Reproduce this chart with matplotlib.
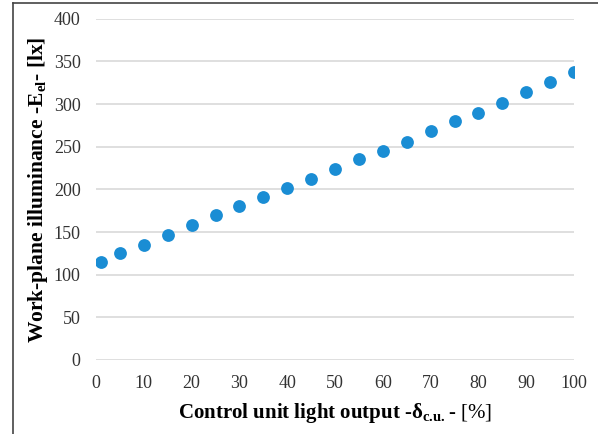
import matplotlib

matplotlib.use("Agg")
import matplotlib.pyplot as plt
from matplotlib.lines import Line2D

# Control unit light output [%] vs. measured work-plane illuminance [lx]
output_pct = [1, 5, 10, 15, 20, 25, 30, 35, 40, 45, 50,
              55, 60, 65, 70, 75, 80, 85, 90, 95, 100]
illuminance_lx = [115, 125, 135, 147, 158, 170, 180, 191, 202, 212, 224,
                  235, 245, 256, 268, 280, 290, 301, 314, 326, 338]
x_ticks = [0, 10, 20, 30, 40, 50, 60, 70, 80, 90, 100]
y_ticks = [0, 50, 100, 150, 200, 250, 300, 350, 400]

plt.rcParams["font.family"] = ["Liberation Serif", "DejaVu Serif"]
plt.rcParams["mathtext.fontset"] = "custom"
plt.rcParams["mathtext.rm"] = "Liberation Serif"
plt.rcParams["mathtext.bf"] = "Liberation Serif:bold"

W, H = 598, 434
fig = plt.figure(figsize=(W / 100, H / 100), dpi=100)
ax = fig.add_axes([96 / W, 1 - 360 / H, (574 - 96) / W, (360 - 18.7) / H])

ax.scatter(output_pct, illuminance_lx, s=85, color="#1a8dd4", lw=0, zorder=3)

ax.set_xlim(0, 100)
ax.set_ylim(0, 400)
ax.set_xticks(x_ticks)
ax.set_yticks(y_ticks)
ax.tick_params(length=0, labelsize=13, colors="#333333")
ax.tick_params(axis="x", pad=11)
ax.tick_params(axis="y", pad=11)
for s in ax.spines.values():
    s.set_visible(False)
ax.grid(axis="y", color="#d9d9d9", lw=1.2)
ax.set_axisbelow(True)

ax.set_xlabel(r"Control unit light output -δ$_{\mathbf{c.\!u.}}$- $[\%]$",
              fontsize=15, fontweight="bold", labelpad=6)
ax.set_ylabel(r"Work-plane illuminance -E$_{\mathbf{el}}$- [lx]",
              fontsize=15.5, fontweight="bold", labelpad=3)

# outer chart frame (left and top edges visible)
fig.add_artist(Line2D([12.5 / W, 12.5 / W], [0, 1 - 2.5 / H],
                      transform=fig.transFigure, color="#444444", lw=1.2))
fig.add_artist(Line2D([12.5 / W, 1], [1 - 2.5 / H, 1 - 2.5 / H],
                      transform=fig.transFigure, color="#444444", lw=1.2))

fig.savefig("out.png", dpi=100)
